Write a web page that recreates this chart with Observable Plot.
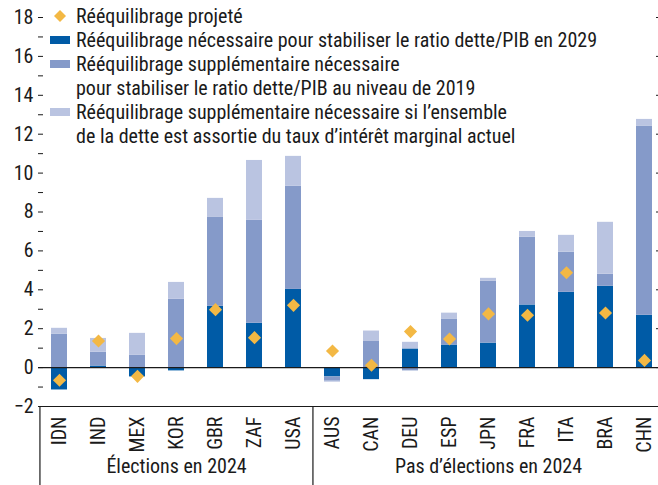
<!DOCTYPE html>
<html>
<head>
<meta charset="utf-8">
<script src="https://cdn.jsdelivr.net/npm/d3@7"></script>
<script src="https://cdn.jsdelivr.net/npm/@observablehq/plot@0.6"></script>
<style>
  html, body { margin: 0; padding: 0; background: #fff; overflow: hidden; }
  #wrap { position: relative; width: 658px; height: 485px; font-family: "Roboto Condensed", "Liberation Sans", sans-serif; color: #1a1a1a; }
  #legend { position: absolute; left: 50px; top: 4px; font-size: 20px; line-height: 24px; }
  .item { display: flex; align-items: flex-start; white-space: nowrap; }
  .sw { width: 26px; height: 24px; position: relative; flex: none; }
  .sw .rect { position: absolute; left: 0; top: 8px; width: 20px; height: 8px; }
  .sw svg { position: absolute; left: 0; top: 2px; }
</style>
</head>
<body>
<div id="wrap"><div id="chart"></div><div id="legend"></div></div>
<script>
const categories = ["IDN","IND","MEX","KOR","GBR","ZAF","USA","AUS","CAN","DEU","ESP","JPN","FRA","ITA","BRA","CHN"];
const groupNames = ["Élections en 2024", "Pas d’élections en 2024"];
const groupOf = ["Élections en 2024","Élections en 2024","Élections en 2024","Élections en 2024","Élections en 2024","Élections en 2024","Élections en 2024",
  "Pas d’élections en 2024","Pas d’élections en 2024","Pas d’élections en 2024","Pas d’élections en 2024","Pas d’élections en 2024","Pas d’élections en 2024","Pas d’élections en 2024","Pas d’élections en 2024","Pas d’élections en 2024"];
// Rééquilibrage nécessaire pour stabiliser le ratio dette/PIB en 2029
const needed2029 = [-1.15, 0.08, -0.48, -0.17, 3.15, 2.28, 4.02, -0.48, -0.62, 0.96, 1.16, 1.26, 3.22, 3.87, 4.18, 2.69];
// supplémentaire pour niveau de 2019
const extra2019 = [1.71, 0.71, 0.63, 3.51, 4.57, 5.29, 5.30, -0.22, 1.37, -0.17, 1.34, 3.19, 3.49, 2.06, 0.62, 9.73];
// supplémentaire si taux marginal actuel
const extraRate = [0.31, 0.71, 1.13, 0.87, 0.98, 3.08, 1.54, -0.05, 0.51, 0.34, 0.30, 0.14, 0.29, 0.87, 2.67, 0.34];
// Rééquilibrage projeté
const projected = [-0.65, 1.37, -0.45, 1.49, 2.98, 1.54, 3.20, 0.85, 0.12, 1.85, 1.47, 2.76, 2.69, 4.88, 2.81, 0.37];

const seriesNames = [
  "Rééquilibrage nécessaire pour stabiliser le ratio dette/PIB en 2029",
  "Rééquilibrage supplémentaire nécessaire<br>pour stabiliser le ratio dette/PIB au niveau de 2019",
  "Rééquilibrage supplémentaire nécessaire si l’ensemble<br>de la dette est assortie du taux d’intérêt marginal actuel"
];
const projectedName = "Rééquilibrage projeté";
const seriesColors = ["#005BA6", "#859AC9", "#BAC4E1"];
const diamondColor = "#F3B844";
const yTicks = d3.range(-2, 19);

const seriesValues = [needed2029, extra2019, extraRate];
const long = [];
categories.forEach((c, i) => {
  seriesValues.forEach((vals, s) => long.push({cat: c, series: seriesNames[s], value: vals[i]}));
});
const proj = categories.map((c, i) => ({cat: c, value: projected[i]}));
const groupLabels = groupNames.map(g => {
  const cats = categories.filter((c, i) => groupOf[i] === g);
  return {label: g, mid: cats[Math.floor(cats.length / 2)], first: cats[0]};
});

const xRange = [38, 664];
const step = (xRange[1] - xRange[0]) / categories.length;
const font = '"Roboto Condensed", "Liberation Sans", sans-serif';

const chart = Plot.plot({
  width: 658, height: 485,
  marginTop: 17, marginBottom: 79, marginLeft: 43, marginRight: 3,
  style: {fontFamily: font, fontSize: "20px", color: "#1a1a1a", background: "transparent"},
  x: {domain: categories, range: xRange, paddingInner: 0.59, paddingOuter: 0.295, label: null},
  y: {domain: [-2, 18], label: null},
  color: {domain: seriesNames, range: seriesColors},
  marks: [
    Plot.barY(long, {x: "cat", y: "value", fill: "series"}),
    Plot.ruleY([0], {stroke: "#1a1a1a", strokeWidth: 1.2, insetLeft: -5, insetRight: -3}),
    Plot.ruleY([-2], {stroke: "#1a1a1a", strokeWidth: 1.2, insetLeft: -5, insetRight: -3}),
    Plot.ruleX(groupLabels, {x: "first", y1: -2, y2: -6.2, dx: -step / 2, stroke: "#1a1a1a", strokeWidth: 1.2}),
    Plot.dot(proj, {x: "cat", y: "value", symbol: "diamond2", r: 5.9, fill: diamondColor}),
    Plot.axisY({anchor: "left", ticks: yTicks, tickSize: 5, tickPadding: 5,
      tickFormat: d => d % 2 === 0 ? String(d).replace("-", "−") : "", fontSize: 20}),
    Plot.axisY({anchor: "right", ticks: yTicks.filter(d => d % 2 === 0), tickSize: 3, tickFormat: () => ""}),
    Plot.axisX({anchor: "bottom", tickRotate: -90, tickSize: 0, tickPadding: 10, fontSize: 20}),
    Plot.text(groupLabels, {x: "mid", text: "label", frameAnchor: "bottom", dy: 66, fontSize: 20, fill: "#1a1a1a"})
  ]
});
document.getElementById("chart").appendChild(chart);

// Legend
const legend = document.getElementById("legend");
function addItem(swatchHtml, text) {
  const it = document.createElement("div");
  it.className = "item";
  it.innerHTML = `<div class="sw">${swatchHtml}</div><div>${text}</div>`;
  legend.appendChild(it);
}
addItem(`<svg width="20" height="20"><path d="M10,4 L16,10 L10,16 L4,10Z" fill="${diamondColor}"/></svg>`, projectedName);
seriesNames.forEach((n, i) => addItem(`<div class="rect" style="background:${seriesColors[i]}"></div>`, n));
</script>
</body>
</html>
